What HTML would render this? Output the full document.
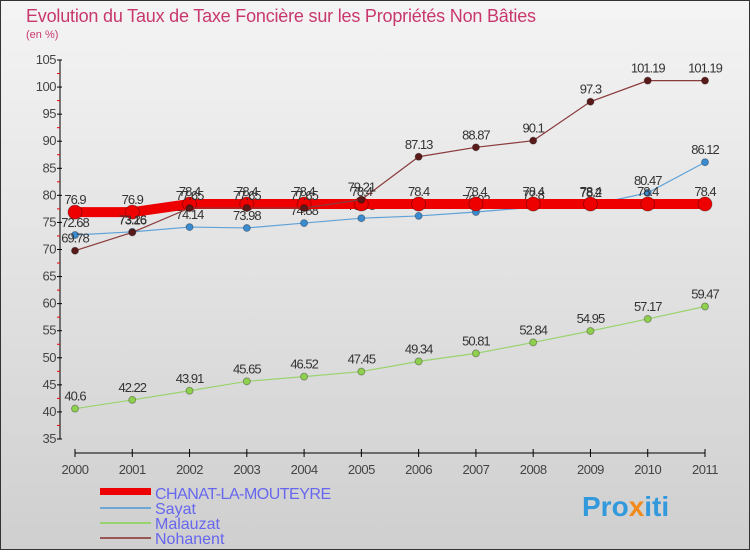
<!DOCTYPE html>
<html><head><meta charset="utf-8"><style>
body{margin:0;width:750px;height:550px;overflow:hidden;font-family:"Liberation Sans",sans-serif}
svg text{font-family:"Liberation Sans",sans-serif}
</style></head><body>
<svg id="c" width="750" height="550">
<defs><linearGradient id="bg" x1="0" y1="0" x2="0" y2="1"><stop offset="0" stop-color="#f4f4f4"/><stop offset="1" stop-color="#cfcfcf"/></linearGradient></defs>
<rect x="0.5" y="0.5" width="749" height="549" fill="url(#bg)" stroke="#333"/>
<text x="26" y="22" font-size="18" fill="#c8386e" letter-spacing="-0.2">Evolution du Taux de Taxe Foncière sur les Propriétés Non Bâties</text>
<text x="26" y="38" font-size="11" fill="#c8386e">(en %)</text>
<g id="axes"></g><g id="series"></g>
<g>
<rect x="100" y="488" width="51" height="7" fill="#e00"/>
<text x="155" y="499" font-size="16" fill="#6666ee" letter-spacing="-0.5">CHANAT-LA-MOUTEYRE</text>
<rect x="100" y="507" width="51" height="2" fill="#6fa8d4"/>
<text x="155" y="514" font-size="16" fill="#6666ee">Sayat</text>
<rect x="100" y="522" width="51" height="2" fill="#99d36e"/>
<text x="155" y="529" font-size="16" fill="#6666ee">Malauzat</text>
<rect x="100" y="537" width="51" height="2" fill="#9a5555"/>
<text x="155" y="544" font-size="16" fill="#6666ee">Nohanent</text>
</g>
<text x="582" y="516" font-size="28" font-weight="bold" fill="#3399dd">Pro<tspan fill="#f08a1c">x</tspan>iti</text>
</svg>
<script>
const years=["2000","2001","2002","2003","2004","2005","2006","2007","2008","2009","2010","2011"];
const yTicks=[35,40,45,50,55,60,65,70,75,80,85,90,95,100,105];
const chanat=[76.9,76.9,78.4,78.4,78.4,78.4,78.4,78.4,78.4,78.4,78.4,78.4];
const sayat=[72.68,73.26,74.14,73.98,74.88,75.78,76.2,76.92,77.8,78.2,80.47,86.12];
const malauzat=[40.6,42.22,43.91,45.65,46.52,47.45,49.34,50.81,52.84,54.95,57.17,59.47];
const nohanent=[69.78,73.16,77.65,77.65,77.65,79.21,87.13,88.87,90.1,97.3,101.19,101.19];
const NS="http://www.w3.org/2000/svg";
const X=i=>75+i*(630/11);
const Y=v=>439-(v-35)*(379/70);
function mk(t,a,p){const e=document.createElementNS(NS,t);for(const k in a)e.setAttribute(k,a[k]);p.appendChild(e);return e;}
const ax=document.getElementById('axes');
let l=mk('line',{x1:60,y1:Y(105),x2:60,y2:439,stroke:'#000'},ax);


l=mk('line',{x1:75,y1:453,x2:705,y2:453,stroke:'#000'},ax);


yTicks.forEach((v,i)=>{
 mk('line',{x1:57,y1:Y(v),x2:62,y2:Y(v),stroke:'#000'},ax);
 if(i<yTicks.length-1) mk('line',{x1:57,y1:Y(v+2.5),x2:60,y2:Y(v+2.5),stroke:'#e00'},ax);
 const t=mk('text',{x:56,y:Y(v)+4,'font-size':13,fill:'#444','text-anchor':'end','letter-spacing':'-0.5'},ax);
 t.textContent=v;
 
 
});
years.forEach((y,i)=>{
 mk('line',{x1:X(i),y1:449,x2:X(i),y2:457,stroke:'#000'},ax);
 const t=mk('text',{x:X(i),y:474,'font-size':13,fill:'#444','text-anchor':'middle','letter-spacing':'-0.5'},ax);
 t.textContent=y;
 
 
});
const sg=document.getElementById('series');
function draw(name,data,color,w,r,dot){
 const g=mk('g',{},sg);
 
 
 const p=mk('polyline',{points:data.map((v,i)=>X(i)+','+Y(v)).join(' '),fill:'none',stroke:color,'stroke-width':w},g);
 
 
 data.forEach((v,i)=>{
  const c=mk('circle',{cx:X(i),cy:Y(v),r:r,fill:dot,stroke:'rgba(0,0,0,0.3)'},g);
  
  
  const t=mk('text',{x:X(i),y:Y(v)-8,'font-size':13,fill:'#333','text-anchor':'middle','letter-spacing':'-1'},g);
  t.textContent=v;
  
  
 });
}
draw('malauzat',malauzat,'#99d36e',1.2,3.5,'#8fd14f');
draw('sayat',sayat,'#5fa2d8',1.2,3.5,'#3a8bd0');
draw('chanat',chanat,'#e00',10,7,'#e00');
draw('nohanent',nohanent,'#8a3a3a',1.2,3.5,'#5a1a1a');
</script>
</body></html>
